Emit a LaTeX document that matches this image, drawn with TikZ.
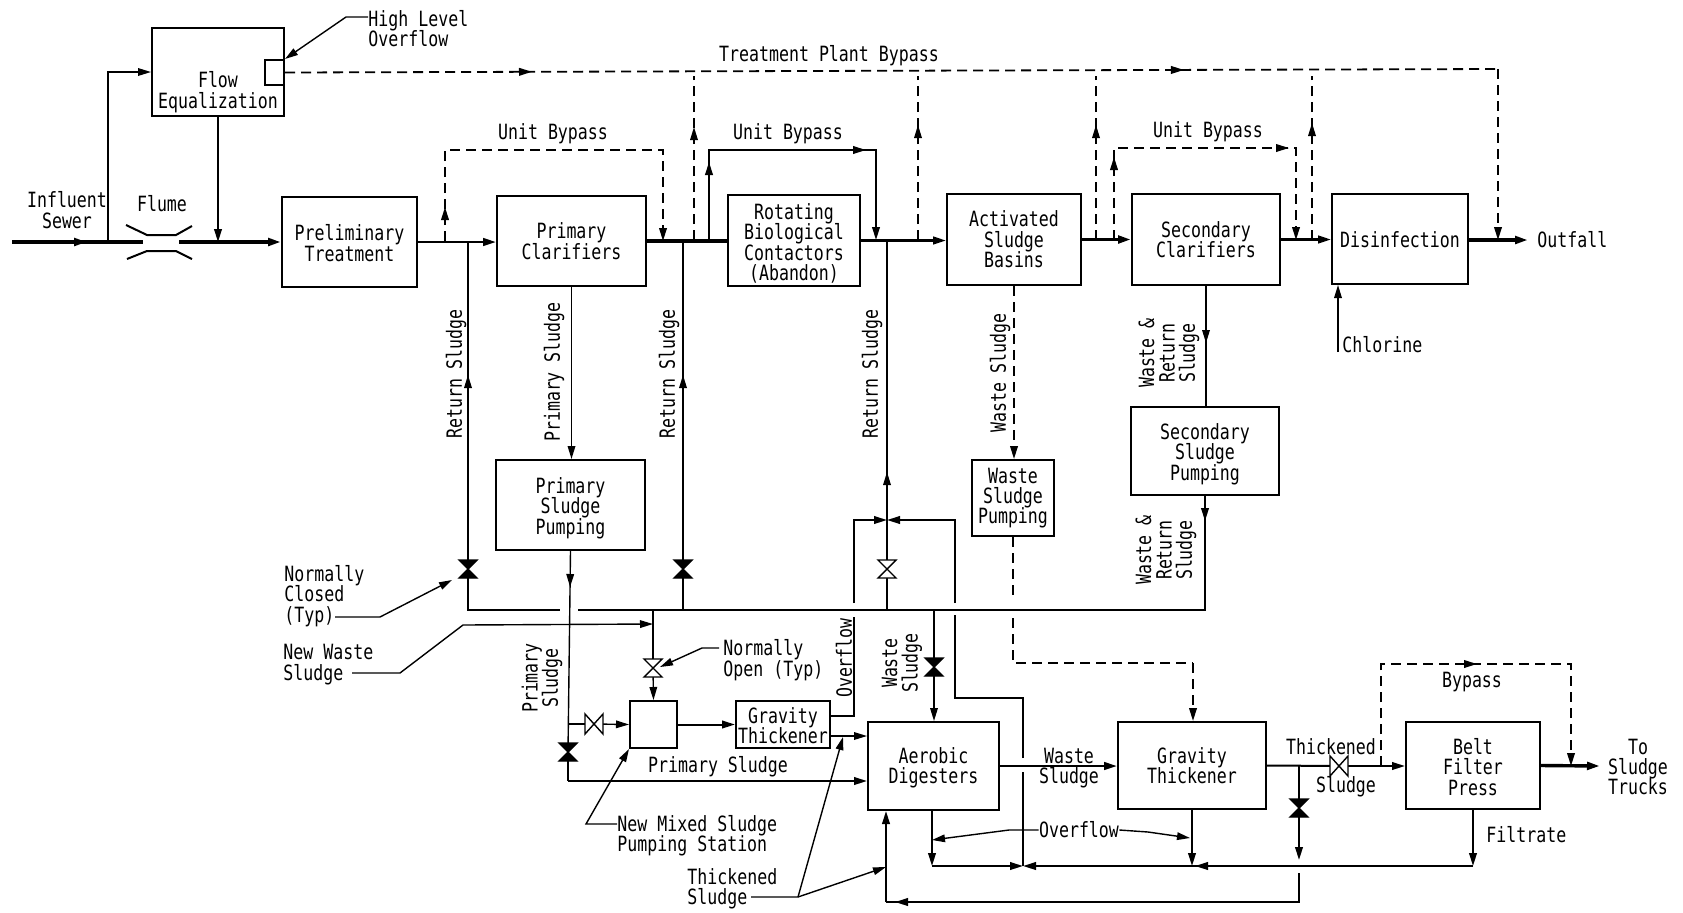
\documentclass[tikz,border=0pt]{standalone}
\usepackage{fontspec}
\setmainfont[FakeStretch=0.79]{DejaVu Sans Mono}
\usetikzlibrary{arrows.meta,decorations.markings}
\AtBeginDocument{\global\lineskiplimit=-20pt}
\tikzset{
  mytip/.tip={Triangle[length=6.5pt,width=3.8pt]},
  every node/.style={font=\fontsize{10.5}{10.2}\selectfont},
  box/.style={draw,line width=1pt,inner sep=0pt,align=center},
  lab/.style={inner sep=0pt,align=center},
  labl/.style={inner sep=0pt,align=left,anchor=west},
  vlab/.style={inner sep=0pt,align=center,rotate=90},
  ln/.style={line width=0.7pt,line join=miter},
  med/.style={line width=1pt},
  mainmed/.style={line width=1.2pt},
  heavy/.style={line width=1.7pt},
  dsh/.style={line width=0.9pt,dash pattern=on 5pt off 3pt},
  end tip/.style={-{mytip}},
  tip at/.style={postaction={draw=none,decorate,decoration={markings,mark=at position #1*0.5pt with {\arrow{mytip}}}}},
  valveclosed/.pic={\draw[ln,fill=black] (-9,-9)--(9,-9)--(-9,9)--(9,9)--cycle;},
  valveopen/.pic={\draw[ln,fill=white] (-9,-9)--(9,-9)--(-9,9)--(9,9)--cycle;},
  valveside/.pic={\draw[ln,fill=white] (-9,-10)--(-9,10)--(9,-10)--(9,10)--cycle;},
}
\begin{document}
\begin{tikzpicture}[x=0.5pt,y=-0.5pt]
\useasboundingbox (0,0) rectangle (1683,912);
\fill[white] (0,0) rectangle (1683,912);
% boxes
\node[box,minimum width=66pt,minimum height=44pt] (flow) at (218,72) {};
\node[box,minimum width=9.5pt,minimum height=12.5pt,anchor=east] (flowOut) at (flow.east |- 0,72.5) {};
\node[box,minimum width=67.5pt,minimum height=45pt] (pre) at (349.5,242) {};
\node[box,minimum width=74.5pt,minimum height=45pt] (pc) at (571.5,241) {Primary\\Clarifiers};
\node[box,minimum width=66pt,minimum height=45.5pt] (rbc) at (794,240.5) {};
\node[box,minimum width=67pt,minimum height=45.5pt] (asb) at (1014,239.5) {Activated\\Sludge\\Basins};
\node[box,minimum width=74pt,minimum height=45.5pt] (sc) at (1206,239.5) {Secondary\\Clarifiers};
\node[box,minimum width=68pt,minimum height=45pt] (dis) at (1400,239) {};
\node[box,minimum width=74.5pt,minimum height=45pt] (psp) at (570.5,505) {};
\node[box,minimum width=41pt,minimum height=38pt] (wsp) at (1013,498) {Waste\\Sludge\\Pumping};
\node[box,minimum width=74pt,minimum height=44pt] (ssp) at (1205,451) {};
\node[box,minimum width=23.5pt,minimum height=23.5pt] (mix) at (653.5,724.5) {};
\node[box,minimum width=47pt,minimum height=23.5pt] (gta) at (783,724.5) {};
\node[box,minimum width=65.5pt,minimum height=44pt] (aer) at (933.5,766) {};
\node[box,minimum width=74pt,minimum height=43.5pt] (gtb) at (1192,765.5) {Gravity\\Thickener};
\node[box,minimum width=67pt,minimum height=43.5pt] (bfp) at (1473,765.5) {};
% labels
\node[lab] (lFlow) at (218,92) {Flow\\Equalization};
\node[lab] (lPre) at (349.5,243) {Preliminary\\Treatment};
\node[lab] (lRbc) at (794,243.5) {Rotating\\Biological\\Contactors\\(Abandon)};
\node[lab] (lDis) at (1400,240) {Disinfection};
\node[lab] (lPsp) at (570.5,508) {Primary\\Sludge\\Pumping};
\node[lab] (lSsp) at (1205,454) {Secondary\\Sludge\\Pumping};
\node[lab] (lGta) at (783,725.5) {Gravity\\Thickener};
\node[lab] (lAer) at (933.5,768) {Aerobic\\Digesters};
\node[lab] (lBfp) at (1473,767) {Belt\\Filter\\Press};
\node[labl] (lHigh) at (368,28.5) {High Level\\Overflow};
\node[lab] (lInf) at (67,210) {Influent\\Sewer};
\node[lab] (lFlume) at (162,204) {Flume};
\node[lab] (lU1) at (553,134) {Unit Bypass};
\node[lab] (lU2) at (788,134) {Unit Bypass};
\node[lab] (lU3) at (1208,132) {Unit Bypass};
\node[lab] (lTP) at (829,56) {Treatment Plant Bypass};
\node[labl] (lOut) at (1537,240) {Outfall};
\node[labl] (lChl) at (1342,345) {Chlorine};
\node[vlab] (lR1) at (456,374) {Return Sludge};
\node[vlab] (lP1) at (554,372) {Primary Sludge};
\node[vlab] (lR2) at (669,374) {Return Sludge};
\node[vlab] (lR3) at (872,374) {Return Sludge};
\node[vlab] (lW1) at (1000,373) {Waste Sludge};
\node[vlab] (lWR1) at (1169,353) {Waste \&\\Return\\Sludge};
\node[vlab] (lWR2) at (1166,550) {Waste \&\\Return\\Sludge};
\node[labl] (lNC) at (284,596) {Normally\\Closed\\(Typ)};
\node[labl] (lNW) at (283,664.5) {New Waste\\Sludge};
\node[labl] (lNO) at (723,660) {Normally\\Open (Typ)};
\node[vlab] (lP2) at (542,678) {Primary\\Sludge};
\node[vlab] (lOv) at (844,658) {Overflow};
\node[vlab] (lW2) at (902,663) {Waste\\Sludge};
\node[lab] (lP3) at (718,767) {Primary Sludge};
\node[labl] (lNM) at (617,836) {New Mixed Sludge\\Pumping Station};
\node[labl] (lTS) at (687,889) {Thickened\\Sludge};
\node[lab] (lWS) at (1069,768) {Waste\\Sludge};
\node[lab] (lTh) at (1331,747) {Thickened};
\node[lab] (lSl) at (1346,787) {Sludge};
\node[lab] (lBy) at (1472,682) {Bypass};
\node[lab] (lOvB) at (1079,830) {Overflow};
\node[labl] (lFil) at (1486,835) {Filtrate};
\node[lab] (lTo) at (1638,767) {To\\Sludge\\Trucks};
% coordinates
\coordinate (inflow) at (12,242);
\coordinate (flL) at (143,242);
\coordinate (flR) at (179,242);
\coordinate (jA) at (108,242);
\coordinate (outEnd) at (1528,240);
\coordinate (ubA) at (445,241);
\coordinate (ubAt) at (445,150);
\coordinate (ubB) at (663,241);
\coordinate (ubBt) at (663,150);
\coordinate (tbR) at (1498,69);
\coordinate (tbD) at (1498,240);
\coordinate (ubC) at (709,240);
\coordinate (ubCt) at (709,150);
\coordinate (ubD) at (876,240);
\coordinate (ubDt) at (876,150);
\coordinate (ubE) at (1114,240);
\coordinate (ubEt) at (1114,148);
\coordinate (ubF) at (1296,240);
\coordinate (ubFt) at (1296,148);
% flume
\draw[med] (126,225)--(147,235)--(176,235)--(192,226);
\draw[med] (127,259)--(147,251)--(176,251)--(192,259);
% main line
\draw[heavy,tip at=75] (inflow) -- (flL);
\draw[heavy,end tip] (flR) -- (pre.west);
\draw[ln,end tip] (jA) |- (flow.west);
\draw[med,end tip] (flow.south) -- (flow.south |- flR);
\draw[mainmed,end tip] (pre.east) -- (pre.east -| pc.west);
\draw[heavy] (pc.east) -- (pc.east -| rbc.west);
\draw[mainmed,end tip] (rbc.east) -- (rbc.east -| asb.west);
\draw[heavy,end tip] (asb.east) -- (asb.east -| sc.west);
\draw[mainmed,end tip] (sc.east) -- (sc.east -| dis.west);
\draw[heavy,end tip] (dis.east |- outEnd) -- (outEnd);
% bypasses
\draw[dsh,end tip,tip at=34] (ubA) -- (ubAt) -- (ubBt) -- (ubB);
\draw[dsh,tip at=247,tip at=899] (flowOut.east) -- (tbR);
\draw[dsh,end tip] (tbR) -- (tbD);
\coordinate (tbA) at (694,76); \coordinate (tbAb) at (694,240);
\coordinate (tbB) at (918,76); \coordinate (tbBb) at (918,240);
\coordinate (tbC) at (1096,76); \coordinate (tbCb) at (1096,240);
\coordinate (tbE) at (1312,76); \coordinate (tbEb) at (1312,240);
\draw[dsh,line width=0.7pt,tip at=113] (tbAb) -- (tbA);
\draw[dsh,line width=0.7pt,tip at=115] (tbBb) -- (tbB);
\draw[dsh,line width=0.7pt,tip at=115] (tbCb) -- (tbC);
\draw[dsh,line width=0.7pt,tip at=117] (tbEb) -- (tbE);
\draw[med,end tip,tip at=78,tip at=247] (ubC) -- (ubCt) -- (ubDt) -- (ubD);
\draw[dsh,end tip,tip at=83,tip at=267] (ubE) -- (ubEt) -- (ubFt) -- (ubF);
% vertical returns
\coordinate (vA) at (468,569); \coordinate (vB) at (683,569); \coordinate (vC) at (887,569);
\coordinate (vD) at (934,667); \coordinate (vE) at (653,668); \coordinate (vF) at (594,724);
\coordinate (vG) at (568,752); \coordinate (vH) at (1339,766); \coordinate (vI) at (1299,808);
\coordinate (mL) at (560,610); \coordinate (mR) at (578,610);
\draw[ln,tip at=194] (vA) -- (468,242);
\draw[ln,tip at=194] (vB) -- (683,241);
\draw[ln,tip at=97] (vC) -- (887,240);
\draw[ln] (vA) |- (mL);
\draw[ln] (vB) -- (vB |- mR);
\draw[ln] (vC) -- (vC |- mR);
\draw[med,tip at=25] (ssp.south) |- (mR);
% pumping links
\draw[ln,end tip] (pc.south) -- (pc.south |- psp.north);
\draw[ln,tip at=57] (sc.south) -- (sc.south |- ssp.north);
\draw[dsh,end tip] (asb.south) -- (asb.south |- wsp.north);
\coordinate (wdA) at (1013,618); \coordinate (wdB) at (1193,663);
\draw[dsh,tip at=64] (wsp.south) -- (wsp.south |- 0,600);
\draw[dsh] (wdA) |- (wdB);
\draw[dsh,end tip] (wdB) -- (wdB |- gtb.north);
% primary sludge
\draw[ln,tip at=36] (psp.south) -- (vG);
\coordinate (psE) at (568,781);
\draw[ln] (vG) -- (psE);
\draw[med,end tip] (psE) -- (psE -| aer.west);
\draw[ln] (568,724) -- (vF);
\draw[ln,end tip] (vF) -- (mix.west);
% new sludge line
\draw[ln] (vE |- mR) -- (vE);
\draw[ln,end tip] (vE) -- (mix.north);
\draw[med,end tip] (mix.east) -- (gta.west);
\coordinate (gtaO) at (830,736);
\draw[ln,end tip] (gtaO) -- (gtaO -| aer.west);
% overflow recycle
\coordinate (ovA) at (830,716); \coordinate (ovB) at (854,617); \coordinate (ovC) at (854,603);
\coordinate (jT) at (887,520);
\draw[ln] (ovA) -| (ovB);
\draw[med,end tip] (ovC) |- (jT);
\coordinate (rcA) at (1023,866); \coordinate (rcB) at (1023,772); \coordinate (rcC) at (1023,758);
\coordinate (rcD) at (955,698); \coordinate (rcE) at (955,615); \coordinate (rcF) at (955,603);
\draw[ln] (rcA) -- (rcB);
\draw[ln] (rcC) |- (rcD) -- (rcE);
\draw[med,end tip] (rcF) |- (jT);
% waste sludge to digesters
\draw[med] (vD |- mR) -- (vD);
\draw[ln,end tip] (vD) -- (vD |- aer.north);
% digester train
\draw[mainmed,end tip] (aer.east) -- (aer.east -| gtb.west);
\draw[med] (gtb.east) -- (vH);
\draw[med,end tip] (vH) -- (vH -| bfp.west);
\draw[heavy,end tip] (bfp.east) -- (1600,766);
\coordinate (byA) at (1381,766); \coordinate (byAt) at (1381,664); \coordinate (byB) at (1571,766); \coordinate (byBt) at (1571,664);
\draw[dsh,end tip,tip at=198] (byA) -- (byAt) -- (byBt) -- (byB);
% lower collection
\coordinate (blA) at (932,866); \coordinate (blB) at (1473,866); \coordinate (blG) at (1192,866);
\coordinate (dnA) at (1299,766); \coordinate (dnB) at (1299,860); \coordinate (dnC) at (1299,873);
\coordinate (dnD) at (1299,902); \coordinate (dnE) at (886,902);
\draw[med,end tip] (aer.south -| blA) -- (blA);
\draw[med,end tip] (blA) -- (rcA);
\draw[med,end tip] (bfp.south) -- (blB);
\draw[med,tip at=278,end tip] (blB) -- (rcA);
\draw[med,end tip] (gtb.south) -- (blG);
\draw[med] (dnA) -- (vI);
\draw[med,end tip] (vI) -- (dnB);
\draw[med,tip at=433] (dnC) |- (dnE);
\draw[med,end tip] (dnE) -- (dnE |- aer.south);
\draw[ln,end tip] (lOvB.west) -- (1009,830) -- (932,840);
\draw[ln,end tip] (lOvB.east) -- (1148,832) -- (1190,838);
% leaders
\draw[ln,end tip] (lHigh.west |- 0,17) -- (346,17) -- (flowOut.north east);
\coordinate (ncA) at (335,617); \coordinate (ncB) at (380,617); \coordinate (ncC) at (452,580);
\draw[ln,end tip] (ncA) -- (ncB) -- (ncC);
\coordinate (nwA) at (352,673); \coordinate (nwB) at (400,673); \coordinate (nwC) at (463,625); \coordinate (nwD) at (653,624);
\draw[ln,end tip] (nwA) -- (nwB) -- (nwC) -- (nwD);
\coordinate (noA) at (719,648); \coordinate (noB) at (702,648); \coordinate (noC) at (660,667);
\draw[ln,end tip] (noA) -- (noB) -- (noC);
\coordinate (nmA) at (617,824); \coordinate (nmB) at (586,824);
\draw[ln,end tip] (nmA) -- (nmB) -- (mix.south west);
\coordinate (tsA) at (751,897); \coordinate (tsB) at (798,897); \coordinate (tsC) at (886,867); \coordinate (tsD) at (843,737);
\draw[ln,end tip] (tsA) -- (tsB) -- (tsC);
\draw[ln,end tip] (tsB) -- (tsD);
\coordinate (chlB) at (1338,352);
\draw[ln,end tip] (chlB) -- (chlB |- dis.south);
% valves
\pic at (vA) {valveclosed};
\pic at (vB) {valveclosed};
\pic at (vC) {valveopen};
\pic at (vD) {valveclosed};
\pic at (vE) {valveopen};
\pic at (vF) {valveside};
\pic at (vG) {valveclosed};
\pic at (vH) {valveside};
\pic at (vI) {valveclosed};
\end{tikzpicture}
\end{document}
